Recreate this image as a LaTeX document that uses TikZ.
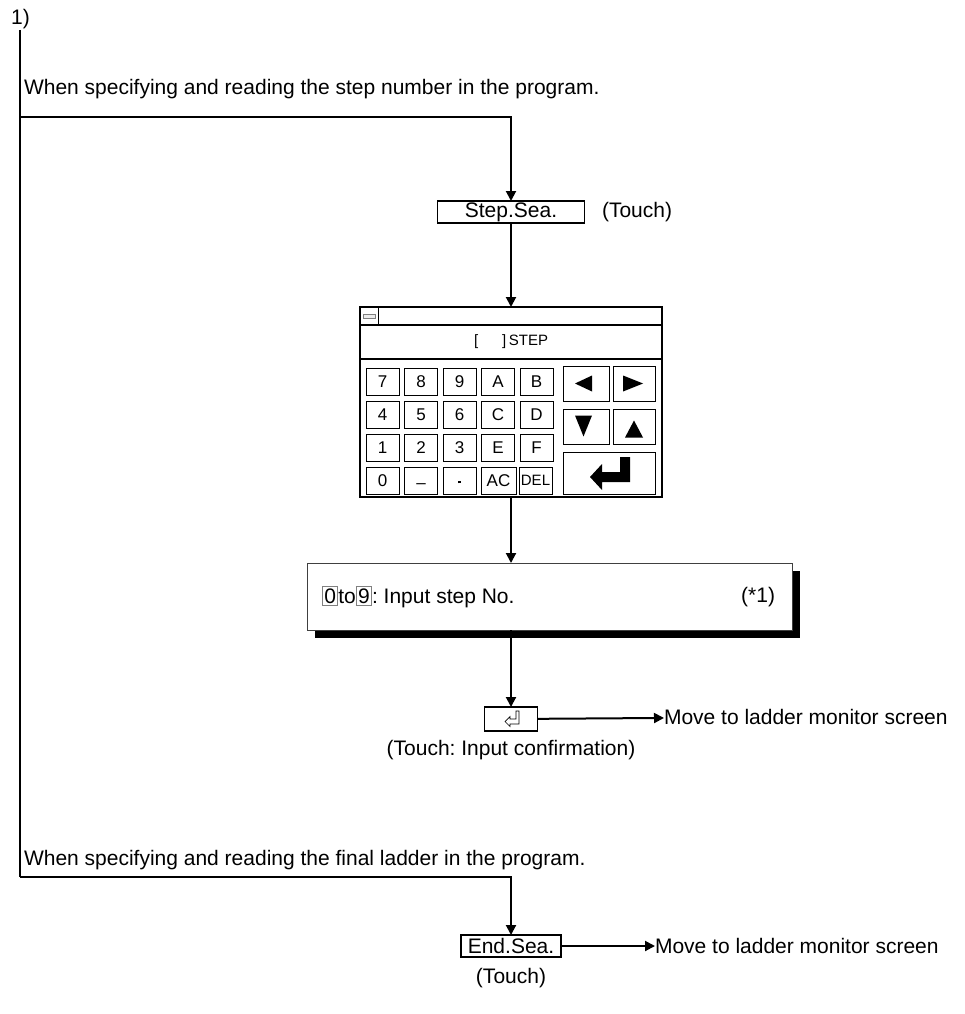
\documentclass[tikz,border=0pt]{standalone}
\usepackage{fontspec}
\setmainfont{Liberation Sans}
\usetikzlibrary{arrows.meta,positioning,calc,shadows}

% boxed digit as printed in the help text
\newcommand{\numkey}[1]{{\setlength{\fboxsep}{1.5pt}\setlength{\fboxrule}{0.8pt}\fcolorbox{gray}{white}{#1}}}

\begin{document}
\frenchspacing
\begin{tikzpicture}[x=1pt,y=-1pt,
  every node/.style={inner sep=0pt, outer sep=0pt},
  txt/.style={font=\fontsize{21}{24}\selectfont},
  flow/.style={draw, line width=2pt},
  arr/.style={flow, -{Triangle[length=10pt,width=10pt]}},
  btn/.style={draw, line width=1.3pt, txt, minimum height=22pt},
  key/.style={draw, line width=1pt, font=\fontsize{17}{19}\selectfont,
              minimum width=33pt, minimum height=27pt},
  tri/.style={fill=black},
]
\useasboundingbox (0,0) rectangle (964,1014);

% rail and first branch
\node[txt] (num) at (20.5,19) {1)};
\coordinate (railtop) at (20,30);
\coordinate (br1) at (20,117);
\coordinate (br2) at (20,877);
\draw[flow] (railtop) -- (br2);
\node[txt, anchor=base west] (cond1) at (24,95)
  {When specifying and reading the step number in the program.};

\node[btn, minimum width=147pt] (stepsea) at (511,212) {Step.Sea.};
\node[txt, anchor=west] (touch1) at (602,212) {(Touch)};
\draw[arr] (br1) -| (stepsea.north);

% keypad window
\node[draw, line width=2pt, minimum width=302pt, minimum height=190pt] (pad) at (511,402) {};
\draw[line width=1.5pt] ([shift={(0,18)}]pad.north west) -- ([shift={(0,18)}]pad.north east);
\draw[line width=1.5pt] ([shift={(0,52)}]pad.north west) -- ([shift={(0,52)}]pad.north east);
\draw[line width=1pt] ([shift={(18,0)}]pad.north west) -- ([shift={(18,18)}]pad.north west);
\draw[gray, line width=0.8pt, fill=gray!15] (363,314) rectangle (375,318);
\node[font=\fontsize{15}{17}\selectfont] (steprow) at (511,342) {[\hspace{24pt}]\,STEP};
\draw[arr] (stepsea) -- (pad);

% number keys
\foreach \lab [count=\i] in {7,8,9,A,B}
  \node[key] (k1\i) at ({382.5+38.5*(\i-1)},381.5) {\lab};
\foreach \lab [count=\i] in {4,5,6,C,D}
  \node[key] (k2\i) at ({382.5+38.5*(\i-1)},414.5) {\lab};
\foreach \lab [count=\i] in {1,2,3,E,F}
  \node[key] (k3\i) at ({382.5+38.5*(\i-1)},447.5) {\lab};
\foreach \lab [count=\i] in {0,{\vphantom{0}\raisebox{-4pt}{--}},{\vphantom{0}\raisebox{3pt}{\rule{2.5pt}{2.5pt}}}}
  \node[key] (k4\i) at ({382.5+38.5*(\i-1)},480.5) {\lab};
\node[key, minimum width=35pt] (k44) at (498.5,480.5) {AC};
\node[key, minimum width=33pt] (k45) at (535.5,480.5) {\fontsize{15}{17}\selectfont DEL};

% cursor and enter keys
\node[key, minimum width=46pt, minimum height=35pt] (kleft) at (586,383.5) {};
\node[key, minimum width=42pt, minimum height=35pt] (kright) at (634,383.5) {};
\node[key, minimum width=46pt, minimum height=35pt] (kdown) at (586,426.5) {};
\node[key, minimum width=42pt, minimum height=35pt] (kup) at (634,426.5) {};
\node[key, minimum width=92pt, minimum height=42pt] (kent) at (609,473) {};
\fill[tri] ([shift={(-11,0)}]kleft.center) -- ([shift={(6,-8)}]kleft.center) -- ([shift={(6,8)}]kleft.center) -- cycle;
\fill[tri] ([shift={(9,0)}]kright.center) -- ([shift={(-11,-8)}]kright.center) -- ([shift={(-11,8)}]kright.center) -- cycle;
\fill[tri] ([shift={(-2.5,10)}]kdown.center) -- ([shift={(-11,-11)}]kdown.center) -- ([shift={(6,-11)}]kdown.center) -- cycle;
\fill[tri] ([shift={(0,-6)}]kup.center) -- ([shift={(-9,11)}]kup.center) -- ([shift={(9,11)}]kup.center) -- cycle;
\fill[tri] ([shift={(-19,4)}]kent.center) -- ([shift={(-7,-9)}]kent.center) -- ([shift={(-7,-1)}]kent.center)
  -- ([shift={(11,-1)}]kent.center) -- ([shift={(11,-16)}]kent.center) -- ([shift={(21,-16)}]kent.center)
  -- ([shift={(21,9)}]kent.center) -- ([shift={(-7,9)}]kent.center) -- ([shift={(-7,17)}]kent.center) -- cycle;

% help box
\node[draw=black!75, line width=1pt, fill=white, minimum width=485pt, minimum height=67pt,
      drop shadow={shadow xshift=8pt, shadow yshift=-8pt, fill=black, opacity=1}] (info) at (549.5,596.5) {};
\node[txt, anchor=west] (infotxt) at (322,597) {\numkey{0}to\numkey{9}: Input step No.};
\node[txt, anchor=east] (note1) at (775,597) {(*1)};
\draw[arr] (pad.south) -- (pad.south |- info.north);

% confirmation
\node[draw, line width=1.5pt, minimum width=53pt, minimum height=24pt] (entbox) at (511,719) {};
\draw[line width=0.7pt] ([shift={(5,-8)}]entbox.center) -- ([shift={(8,-8)}]entbox.center)
  -- ([shift={(8,5)}]entbox.center) -- ([shift={(-1,5)}]entbox.center) -- ([shift={(-1,7.5)}]entbox.center)
  -- ([shift={(-6,2.5)}]entbox.center) -- ([shift={(-1,-2.5)}]entbox.center) -- ([shift={(-1,0)}]entbox.center)
  -- ([shift={(5,0)}]entbox.center) -- cycle;
\node[txt] (touch2) at (511,750) {(Touch: Input confirmation)};
\node[txt, anchor=west] (move1) at (664,717) {Move to ladder monitor screen};
\draw[arr] (pad.south |- info.south) -- (entbox);
\draw[arr] (entbox) -- (move1);

% second branch
\node[txt, anchor=base west] (cond2) at (24,865)
  {When specifying and reading the final ladder in the program.};
\node[btn, minimum width=100pt] (endsea) at (511,946) {End.Sea.};
\node[txt] (touch3) at (511,978) {(Touch)};
\node[txt, anchor=west] (move2) at (655,946) {Move to ladder monitor screen};
\draw[arr] (br2) -| (endsea.north);
\draw[arr] (endsea) -- (move2);
\end{tikzpicture}
\end{document}
